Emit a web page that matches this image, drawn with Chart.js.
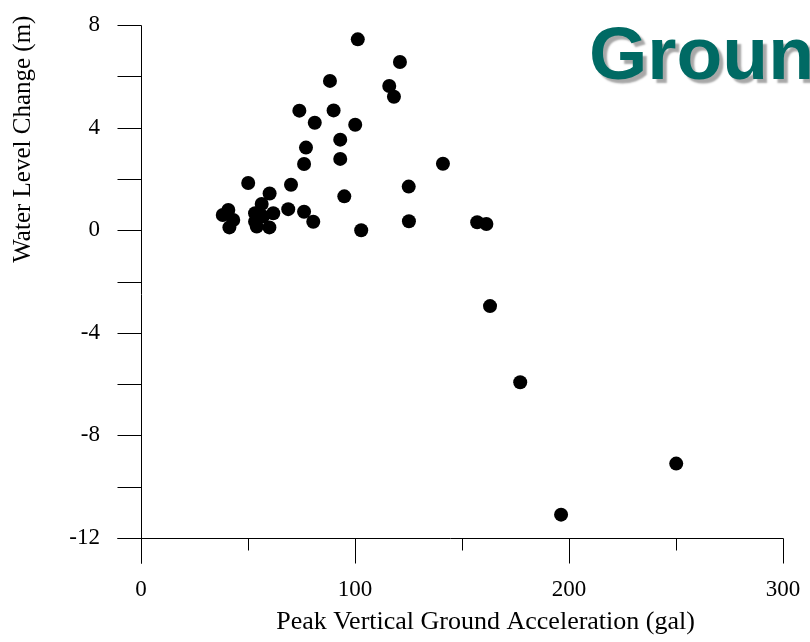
<!DOCTYPE html>
<html lang="en">
<head>
    <meta charset="UTF-8">
    <title>Water Level Change vs Peak Vertical Ground Acceleration</title>
    <script src="https://cdn.jsdelivr.net/npm/chart.js"></script>
    <style>
        body { margin: 0; background: #fff; overflow: hidden; }
        #wrap { position: relative; width: 810px; height: 642px; overflow: hidden; }
        #heading {
            position: absolute; left: 589px; top: 16px;
            font: bold 75px "Liberation Sans", Arial, sans-serif;
            line-height: 75px; color: #006a64; white-space: nowrap;
            text-shadow: 4px 4px 2px #a8a8a8;
        }
    </style>
</head>
<body>
    <div id="wrap">
        <canvas id="chart" width="810" height="642"></canvas>
        <div id="heading">Groun</div>
    </div>
    <script>
        // peak vertical acceleration (gal) and water level change (m) per well
        const accel = [101.3, 121.0, 88.3, 116.0, 118.2, 74.0, 90.0, 81.2, 100.1, 93.1,
                       77.1, 93.1, 76.2, 141.1, 50.1, 70.1, 125.1, 60.1, 95.0, 56.4,
                       40.8, 38.2, 43.1, 41.3, 53.3, 61.8, 68.8, 76.2, 80.5, 53.3,
                       54.1, 60.0, 57.0, 102.9, 125.2, 157.1, 161.4, 163.1, 177.2, 250.1,
                       196.3];
        const levelChange = [7.44, 6.56, 5.82, 5.62, 5.20, 4.66, 4.67, 4.19, 4.11, 3.53,
                             3.22, 2.78, 2.58, 2.59, 1.84, 1.77, 1.70, 1.43, 1.32, 1.02,
                             0.79, 0.59, 0.40, 0.11, 0.66, 0.66, 0.82, 0.72, 0.33, 0.33,
                             0.14, 0.11, 0.53, 0.00, 0.35, 0.31, 0.24, -2.96, -5.93, -9.10,
                             -11.09];
        const xTickLabels = [0, 100, 200, 300];
        const yTickLabels = [-12, -8, -4, 0, 4, 8];
        const xMinorTicks = [50, 150, 250];
        const yMinorTicks = [-10, -6, -2, 2, 6];

        const points = accel.map((a, i) => ({ x: a, y: levelChange[i] }));
        const serif = '"Liberation Serif", "Times New Roman", serif';

        // keep tick labels from pushing the plot area inwards
        const noPad = s => { s.paddingTop = s.paddingBottom = s.paddingLeft = s.paddingRight = 0; };

        // axis lines, outward tick marks and the two axis titles
        const axisFrame = {
            id: 'axisFrame',
            afterDraw(chart) {
                const { ctx, scales: { x, y } } = chart;
                const left = Math.round(x.getPixelForValue(0)) + 0.5;
                const bottom = Math.round(y.getPixelForValue(-12)) + 0.5;
                const right = Math.round(x.getPixelForValue(300)) + 0.5;
                const top = Math.round(y.getPixelForValue(8)) + 0.5;
                ctx.save();
                ctx.strokeStyle = '#000';
                ctx.lineWidth = 1;
                ctx.beginPath();
                ctx.moveTo(left, top);
                ctx.lineTo(left, bottom + 25);
                ctx.moveTo(left - 24, bottom);
                ctx.lineTo(right, bottom);
                yTickLabels.concat(yMinorTicks).forEach(v => {
                    const py = Math.round(y.getPixelForValue(v)) + 0.5;
                    ctx.moveTo(left - 24, py);
                    ctx.lineTo(left, py);
                });
                xTickLabels.forEach(v => {
                    const px = Math.round(x.getPixelForValue(v)) + 0.5;
                    ctx.moveTo(px, bottom);
                    ctx.lineTo(px, bottom + 25);
                });
                xMinorTicks.forEach(v => {
                    const px = Math.round(x.getPixelForValue(v)) + 0.5;
                    ctx.moveTo(px, bottom);
                    ctx.lineTo(px, bottom + 12);
                });
                ctx.stroke();

                ctx.fillStyle = '#000';
                ctx.textAlign = 'center';
                ctx.textBaseline = 'alphabetic';
                ctx.font = '26px ' + serif;
                ctx.fillText('Peak Vertical Ground Acceleration (gal)', x.getPixelForValue(161), 629);
                ctx.font = '25px ' + serif;
                ctx.translate(30, y.getPixelForValue(3.55));
                ctx.rotate(-Math.PI / 2);
                ctx.fillText('Water Level Change (m)', 0, 0);
                ctx.restore();
            }
        };

        new Chart(document.getElementById('chart').getContext('2d'), {
            type: 'scatter',
            data: {
                datasets: [{
                    data: points,
                    backgroundColor: '#000',
                    borderWidth: 0,
                    pointRadius: 7,
                    pointHoverRadius: 7
                }]
            },
            options: {
                responsive: false,
                animation: false,
                events: [],
                layout: { padding: { top: 25, right: 27, left: 0, bottom: 0 } },
                plugins: { legend: { display: false }, tooltip: { enabled: false } },
                scales: {
                    x: {
                        type: 'linear', min: 0, max: 300,
                        afterFit: s => { s.height = 104; noPad(s); },
                        afterBuildTicks: s => { s.ticks = xTickLabels.map(v => ({ value: v })); },
                        grid: { display: false, drawTicks: false },
                        border: { display: false },
                        ticks: { color: '#000', padding: 38, font: { family: serif, size: 23 } }
                    },
                    y: {
                        type: 'linear', min: -12, max: 8,
                        afterFit: s => { s.width = 141; noPad(s); },
                        afterBuildTicks: s => { s.ticks = yTickLabels.map(v => ({ value: v })); },
                        grid: { display: false, drawTicks: false },
                        border: { display: false },
                        ticks: { color: '#000', padding: 41, font: { family: serif, size: 23 } }
                    }
                }
            },
            plugins: [axisFrame]
        });
    </script>
</body>
</html>
